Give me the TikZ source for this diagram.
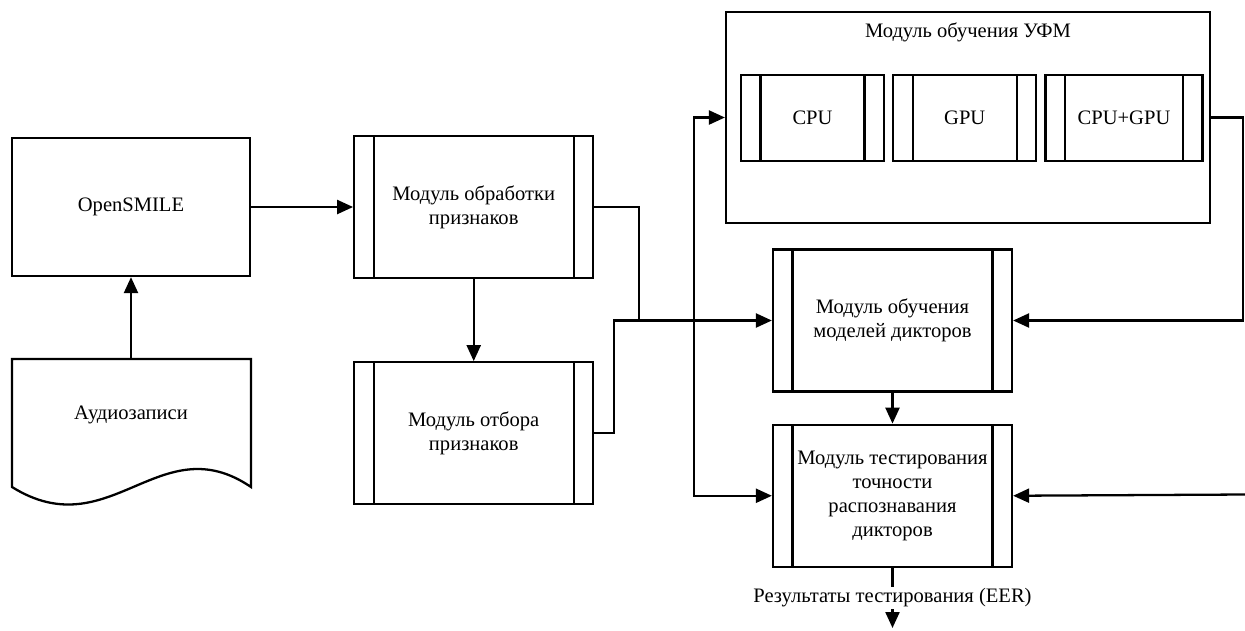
\documentclass[tikz,border=0pt]{standalone}
\usepackage{fontspec}
\setmainfont{Liberation Serif}
\usetikzlibrary{positioning,arrows.meta}

\begin{document}
\begin{tikzpicture}[->,>={Triangle[length=0.32cm,width=0.28cm]},x=0.02cm,y=-0.02cm,line width=1.3pt,
  every node/.style={font=\fontsize{11.7}{13.6}\selectfont},
  blok/.style={draw,rectangle,align=center,minimum width=4.76cm,minimum height=2.76cm,inner sep=0pt},
  modul/.style={blok,minimum width=4.78cm,minimum height=2.84cm,
    path picture={\draw[-,line width=1.3pt] ([xshift=0.39cm]path picture bounding box.north west) -- ([xshift=0.39cm]path picture bounding box.south west)
      ([xshift=-0.39cm]path picture bounding box.north east) -- ([xshift=-0.39cm]path picture bounding box.south east);}},
  proc/.style={modul,minimum width=2.86cm,minimum height=1.72cm}]

\useasboundingbox (0,0) rectangle (1245,630);

% Блоки слева
  \node[blok] (os) at (131,207) {OpenSMILE};
  \node[modul] (obr) [right=2.04cm of os] {Модуль обработки\\признаков};
  \node[modul] (otb) [below=1.64cm of obr] {Модуль отбора\\признаков};
  \draw[-] (12,359) -- (251,359) -- (251,487) .. controls (160,425) and (110,548) .. (12,487) -- cycle; % документ
  \node (audio) at (131,415) {Аудиозаписи};
  \coordinate (audiotop) at (131,359);

% Модуль обучения УФМ с тремя вариантами
  \node[draw,minimum width=9.68cm,minimum height=4.22cm] (ufm) at (968,117.5) {};
  \node[inner sep=0pt] (ufmtitel) [below=0.22cm of ufm.north] {Модуль обучения УФМ};
  \node[proc] (cpu) at (812.5,118) {CPU};
  \node[proc] (gpu) [right=0.14cm of cpu] {GPU};
  \node[proc,minimum width=3.14cm] (cpugpu) [right=0.14cm of gpu] {CPU+GPU};

% Обучение и тестирование
  \node[modul] (train) at (892.5,320.5) {Модуль обучения\\моделей дикторов};
  \node[modul] (test) [below=0.62cm of train] {Модуль тестирования\\точности\\распознавания\\дикторов};

% Связи
  \coordinate (k1) at (639,320.5);
  \coordinate (k2) at (614,320.5);
  \coordinate (vert) at (694,320.5); % общая вертикальная линия
  \coordinate (rechts) at (1243,320.5);
  \coordinate (rein) at (1245,494.5);
  \coordinate (ausgang) at (892.5,628);

  \path (audiotop) edge (os.south)
    (os) edge (obr)
    (obr) edge (otb)
    (train) edge (test);
  \draw[-] (obr.east) -| (k1);
  \draw (otb.east) -| (k2) -- (train.west);
  \draw (vert) |- (ufm.west);
  \draw (vert) |- (test.west);
  \draw (ufm.east) -| (rechts) -- (train.east);
  \draw (rein) -- (test.east);
  \draw (test.south) -- (ausgang) node[midway,fill=white,inner sep=1pt] {Результаты тестирования (EER)};
\end{tikzpicture}
\end{document}
